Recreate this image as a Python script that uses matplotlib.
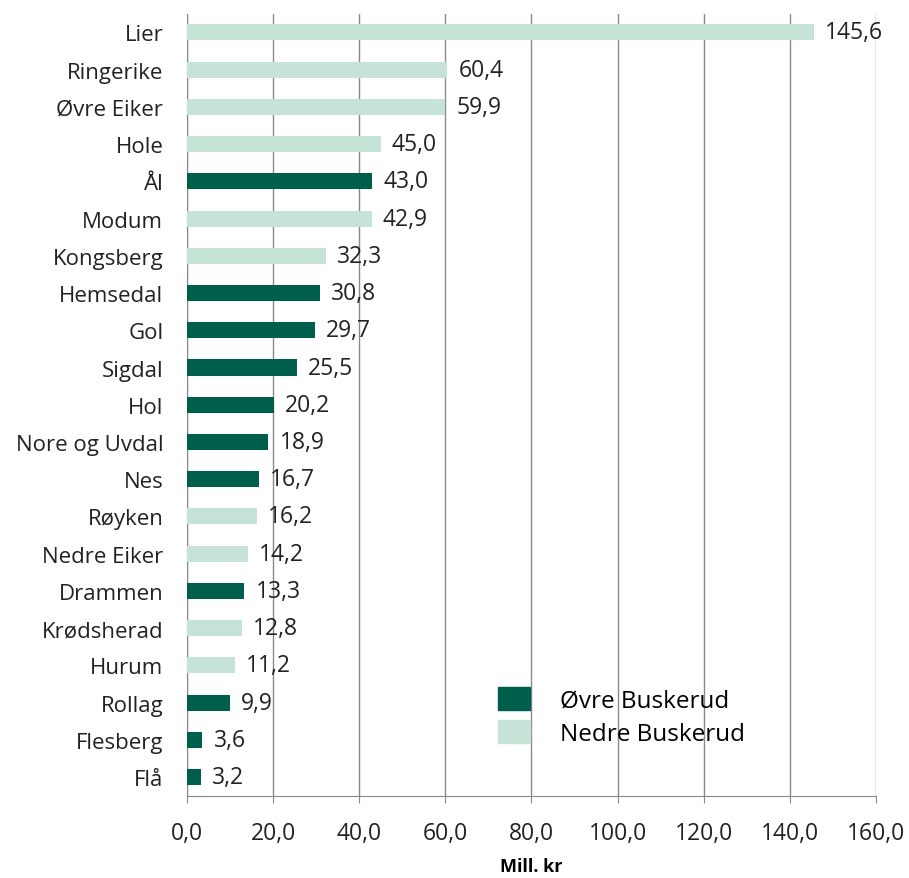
import matplotlib
matplotlib.use("Agg")
import matplotlib.pyplot as plt
from matplotlib.patches import Patch

# data, top to bottom as in the chart
kommuner = ["Lier", "Ringerike", "Øvre Eiker", "Hole", "Ål", "Modum", "Kongsberg",
            "Hemsedal", "Gol", "Sigdal", "Hol", "Nore og Uvdal", "Nes", "Røyken",
            "Nedre Eiker", "Drammen", "Krødsherad", "Hurum", "Rollag", "Flesberg", "Flå"]
verdier = [145.6, 60.4, 59.9, 45.0, 43.0, 42.9, 32.3, 30.8, 29.7, 25.5, 20.2,
           18.9, 16.7, 16.2, 14.2, 13.3, 12.8, 11.2, 9.9, 3.6, 3.2]
region = ["N", "N", "N", "N", "O", "N", "N", "O", "O", "O", "O",
          "O", "O", "N", "N", "O", "N", "N", "O", "O", "O"]

MORK = "#005E4D"
LYS = "#C5E4D7"
TXT = "#222222"

plt.rcParams["font.family"] = ["Open Sans", "DejaVu Sans"]

fig = plt.figure(figsize=(9.09, 8.79), dpi=100)
ax = fig.add_axes([0.2057, 0.0935, 0.758, 0.8898])

n = len(kommuner)
ypos = list(range(n))[::-1]
farger = [MORK if r == "O" else LYS for r in region]
ax.barh(ypos, verdier, height=0.43, color=farger, zorder=3)

for y, v in zip(ypos, verdier):
    ax.text(v + 2.6, y, f"{v:.1f}".replace(".", ","), va="center", ha="left",
            fontsize=16.5, color=TXT, zorder=4)

ax.set_ylim(-0.5, n - 0.5)
ax.set_yticks(ypos)
ax.set_yticklabels(kommuner, fontsize=16, color=TXT)
ax.tick_params(axis="y", length=0, pad=17)

ax.set_xlim(0, 160)
xt = list(range(0, 161, 20))
ax.set_xticks(xt)
ax.set_xticklabels([f"{t:.1f}".replace(".", ",") for t in xt], fontsize=16.5, color=TXT)
ax.tick_params(axis="x", length=5, color="#888888", pad=13)
ax.grid(axis="x", color="#8a8a8a", linewidth=1.0, zorder=0)

for s in ["top", "right"]:
    ax.spines[s].set_visible(False)
ax.spines["bottom"].set_color("#888888")
ax.spines["left"].set_color("#888888")

ax.set_xlabel("Mill. kr", fontsize=13, fontweight="bold", labelpad=8.5)

handles = [Patch(color=MORK, label="Øvre Buskerud"), Patch(color=LYS, label="Nedre Buskerud")]
ax.legend(handles=handles, loc="upper left", bbox_to_anchor=(0.42, 0.167),
          frameon=False, fontsize=17.5, handlelength=1.3, handleheight=1.07,
          handletextpad=1.25, labelspacing=0.3)

fig.savefig("out.png", dpi=100)
